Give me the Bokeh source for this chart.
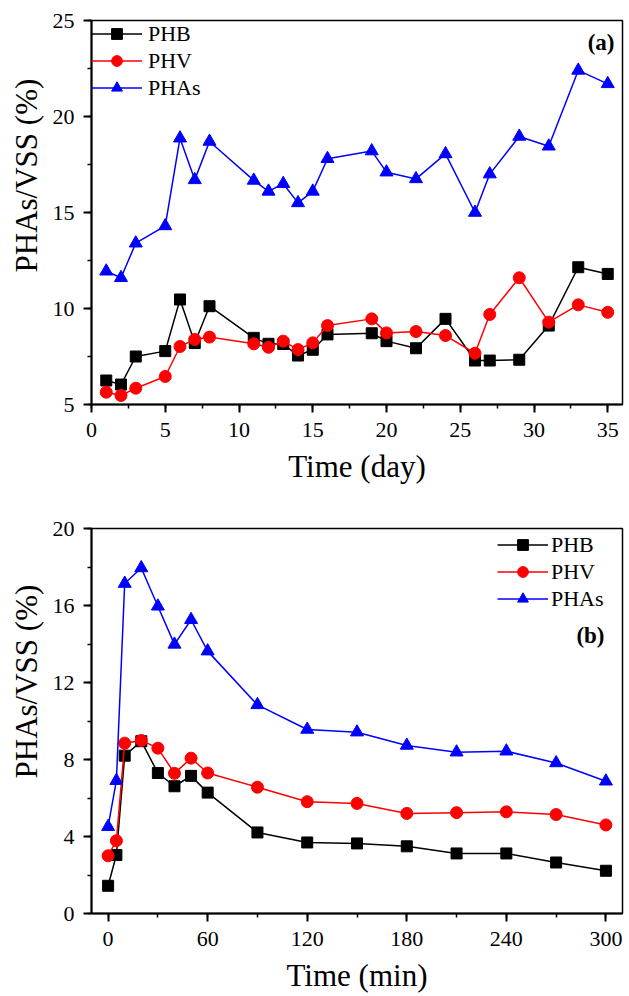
from bokeh.plotting import figure
from bokeh.layouts import column
from bokeh.models import Range1d, SingleIntervalTicker, Legend, LegendItem, Title, Label
from bokeh.embed import file_html
from bokeh.resources import INLINE

# ---- Panel (a): long-term operation ----
days = [1, 2, 3, 5, 6, 7, 8, 11, 12, 13, 14, 15, 16, 19, 20, 22, 24, 26, 27, 29, 31, 33, 35]
phb_a = [6.25, 6.04, 7.5, 7.78, 10.47, 8.2, 10.12, 8.47, 8.16, 8.15, 7.55, 7.85, 8.65, 8.71,
         8.3, 7.93, 9.46, 7.29, 7.29, 7.33, 9.11, 12.15, 11.8]
phv_a = [5.64, 5.47, 5.85, 6.46, 8.02, 8.39, 8.51, 8.16, 7.98, 8.3, 7.86, 8.21, 9.11, 9.46,
         8.73, 8.8, 8.59, 7.67, 9.69, 11.6, 9.29, 10.19, 9.8]
phas_a = [11.94, 11.6, 13.4, 14.3, 18.87, 16.7, 18.7, 16.67, 16.1, 16.5, 15.5, 16.1, 17.8, 18.2,
          17.1, 16.75, 18.05, 15.0, 17.0, 18.96, 18.45, 22.4, 21.7]

# ---- Panel (b): typical cycle ----
mins = [0, 5, 10, 20, 30, 40, 50, 60, 90, 120, 150, 180, 210, 240, 270, 300]
phb_b = [1.44, 3.04, 8.2, 8.95, 7.3, 6.61, 7.15, 6.28, 4.21, 3.69, 3.64, 3.49, 3.12, 3.12, 2.65, 2.22]
phv_b = [3.0, 3.78, 8.85, 8.99, 8.59, 7.28, 8.07, 7.3, 6.56, 5.81, 5.72, 5.2, 5.24, 5.28, 5.14, 4.6]
phas_b = [4.51, 6.9, 17.14, 17.95, 15.96, 13.98, 15.26, 13.63, 10.84, 9.56, 9.42, 8.73, 8.38, 8.43, 7.82, 6.87]

series_names = ["PHB", "PHV", "PHAs"]
colors = ["#000000", "#ff0000", "#0000ff"]
markers = ["square", "circle", "triangle"]
msizes = [11, 12, 13]

FONT = "Liberation Serif"


def make_panel(x, ys, xr, yr, xint, yint, height, top, bottom, xlabel, tag, tag_xy,
               ylabel_offset, legend_loc, legend_kw):
    p = figure(width=629, height=height, output_backend="svg", toolbar_location=None,
               x_range=Range1d(*xr), y_range=Range1d(*yr),
               min_border_left=90, min_border_right=7, min_border_top=top,
               min_border_bottom=bottom)
    p.xgrid.visible = False
    p.ygrid.visible = False
    p.outline_line_color = "black"
    p.outline_line_width = 1.5
    p.outline_line_alpha = 1.0
    p.xaxis.ticker = SingleIntervalTicker(interval=xint, num_minor_ticks=2)
    p.yaxis.ticker = SingleIntervalTicker(interval=yint, num_minor_ticks=2)
    for ax in (p.xaxis[0], p.yaxis[0]):
        ax.axis_line_width = 2
        ax.axis_line_color = "black"
        ax.major_tick_line_width = 2
        ax.minor_tick_line_width = 1.5
        ax.major_tick_line_color = "black"
        ax.minor_tick_line_color = "black"
        ax.major_tick_out = 8
        ax.major_tick_in = 0
        ax.minor_tick_out = 4
        ax.minor_tick_in = 0
        ax.major_label_text_font = FONT
        ax.major_label_text_font_size = "22px"
        ax.major_label_text_color = "black"
    p.yaxis.major_label_standoff = 9
    p.xaxis.major_label_standoff = 10
    p.xaxis.axis_label = xlabel
    p.xaxis.axis_label_text_font = FONT
    p.xaxis.axis_label_text_font_size = "31px"
    p.xaxis.axis_label_text_font_style = "normal"
    p.xaxis.axis_label_text_color = "black"
    p.xaxis.axis_label_standoff = 9

    items = []
    for name, yv, c, m, s in zip(series_names, ys, colors, markers, msizes):
        ln = p.line(x, yv, line_color=c, line_width=1.5)
        sc = p.scatter(x, yv, marker=m, size=s, fill_color=c, line_color=c)
        items.append(LegendItem(label=name, renderers=[ln, sc]))

    leg = Legend(items=items, location=legend_loc, border_line_color=None,
                 background_fill_alpha=0, label_text_font=FONT,
                 label_text_font_size="22px", label_text_color="black",
                 glyph_height=27, label_height=27, spacing=0, **legend_kw)
    p.add_layout(leg)

    ttl = Title(text="PHAs/VSS (%)", align="left", offset=ylabel_offset,
                text_font=FONT, text_font_size="31px", text_font_style="normal",
                text_color="black", standoff=12)
    p.add_layout(ttl, "left")

    p.add_layout(Label(x=tag_xy[0], y=tag_xy[1], x_units="screen", y_units="screen",
                       text=tag, text_align="right", text_baseline="middle",
                       text_color="black",
                       text_font=FONT, text_font_size="23px", text_font_style="bold"))
    return p


p1 = make_panel(days, [phb_a, phv_a, phas_a], (0, 36), (5, 25), 5, 5, 504, 20, 100,
                "Time (day)", "(a)", (523, 362), 132, "top_left",
                dict(padding=0, margin=0, glyph_width=51, label_standoff=6))
p2 = make_panel(mins, [phb_b, phv_b, phas_b], (-10, 310), (0, 20), 60, 4, 492, 24, 83,
                "Time (min)", "(b)", (513, 278), 135, "top_right",
                dict(padding=0, margin=3, glyph_width=51, label_standoff=3, label_width=68))

layout = column(p1, p2, spacing=0)
open("out.html", "w").write(file_html(layout, INLINE))
